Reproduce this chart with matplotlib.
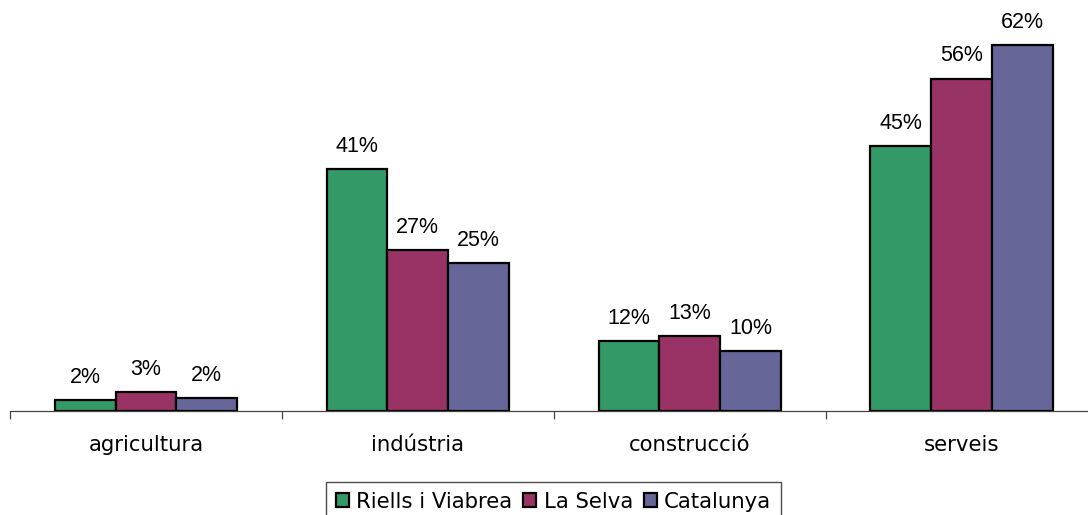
import matplotlib
matplotlib.use("Agg")
import matplotlib.pyplot as plt
import numpy as np

categories = ["agricultura", "indústria", "construcció", "serveis"]
series_names = ["Riells i Viabrea", "La Selva", "Catalunya"]
riells = [1.9, 41.0, 11.9, 45.0]
selva = [3.3, 27.3, 12.8, 56.4]
catalunya = [2.2, 25.1, 10.2, 62.1]
colors = ["#339966", "#993366", "#666699"]

W, H = 1088, 515
fig = plt.figure(figsize=(W / 100, H / 100), dpi=100)
base_px = 411.3
px_per = 5.9
ytop = 70
ax = fig.add_axes([10 / W, 1 - base_px / H, 1087.5 / W, ytop * px_per / H])

x = np.arange(len(categories))
bw = 0.2235
series = [riells, selva, catalunya]
for i, (vals, name, c) in enumerate(zip(series, series_names, colors)):
    pos = x + (i - 1) * bw
    ax.bar(pos, vals, width=bw, color=c, edgecolor="black", linewidth=1.6,
           label=name, zorder=3)
    for xi, v in zip(pos, vals):
        ax.annotate(f"{round(v):d}%", xy=(xi, v), xytext=(0, 12.3), textcoords="offset points",
                    ha="center", va="baseline", fontsize=15.5, family="Liberation Sans",
                    color="black")

ax.set_xlim(-0.5, len(categories) - 0.5)
ax.set_ylim(0, ytop)
for s in ["top", "right", "left"]:
    ax.spines[s].set_visible(False)
ax.spines["bottom"].set_color("#444444")
ax.spines["bottom"].set_linewidth(0.9)
ax.set_yticks([])
ax.set_xticks(x)
ax.set_xticklabels(categories, fontsize=15.3, family="DejaVu Sans")
ax.tick_params(axis="x", which="major", length=0, pad=17)
ax.set_xticks(np.arange(-0.5, len(categories), 1.0), minor=True)
ax.tick_params(axis="x", which="minor", length=6, width=0.9, color="#444444", direction="out")

leg = fig.legend(loc="upper center", bbox_to_anchor=(553.5 / W, 1 - 482 / H), ncol=3,
                 prop={"family": "DejaVu Sans", "size": 15.3}, frameon=True, fancybox=False,
                 handlelength=0.62, handleheight=0.62, handletextpad=0.35, columnspacing=0.5,
                 borderpad=0.45, borderaxespad=0)
leg.get_frame().set_edgecolor("#222222")
leg.get_frame().set_linewidth(1.0)
for h in leg.legend_handles:
    h.set_linewidth(1.6)

fig.savefig("out.png", dpi=100)
